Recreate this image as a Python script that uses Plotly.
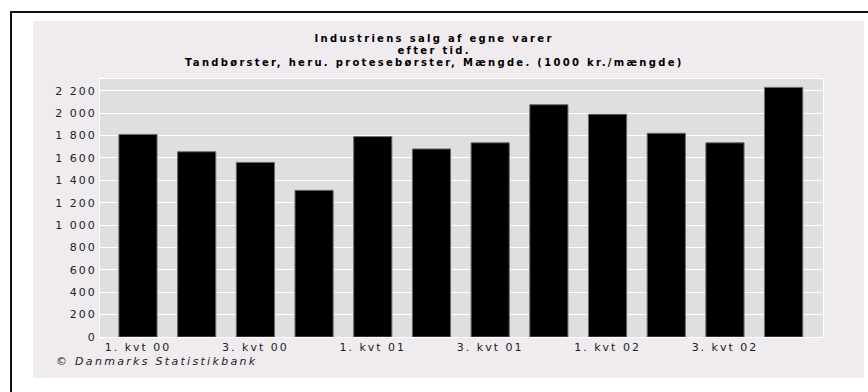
import plotly.graph_objects as go

# ---- data ----
categories = ["1. kvt 00", "2. kvt 00", "3. kvt 00", "4. kvt 00",
              "1. kvt 01", "2. kvt 01", "3. kvt 01", "4. kvt 01",
              "1. kvt 02", "2. kvt 02", "3. kvt 02", "4. kvt 02"]
values = [1810, 1655, 1560, 1310, 1790, 1680, 1735, 2075, 1990, 1820, 1735, 2230]
ytick_vals = [0, 200, 400, 600, 800, 1000, 1200, 1400, 1600, 1800, 2000, 2200]
ytick_text = ["0", "200", "400", "600", "800", "1 000", "1 200", "1 400",
              "1 600", "1 800", "2 000", "2 200"]
title_lines = ["Industriens salg af egne varer",
               "efter tid.",
               "Tandbørster, heru. protesebørster, Mængde. (1000 kr./mængde)"]
source_text = "© Danmarks Statistikbank"

# ---- layout geometry (pixels) ----
W, H = 868, 392
L, R, T, B = 100, 823, 79, 337


def px(x):
    return (x - L) / (R - L)


def py(y):
    return (B - y) / (B - T)


xpos = list(range(len(categories)))
xtick_vals = xpos[::2]
xtick_text = categories[::2]

FONT = "DejaVu Sans"

fig = go.Figure()
fig.add_trace(go.Bar(
    x=xpos, y=values, width=0.65,
    marker=dict(color="#000000", line=dict(color="#6a6a6a", width=1)),
    hoverinfo="skip",
))

shapes = [
    dict(type="rect", xref="paper", yref="paper", x0=px(33), x1=px(864),
         y0=py(378), y1=py(21), fillcolor="#EFEBEF", line=dict(width=0), layer="below"),
    dict(type="rect", xref="paper", yref="paper", x0=0, x1=1, y0=0, y1=1,
         fillcolor="#DFDFDF", line=dict(width=0), layer="below"),
    dict(type="line", xref="paper", yref="paper", x0=px(10), x1=px(875),
         y0=py(12), y1=py(12), line=dict(color="#111111", width=2)),
    dict(type="line", xref="paper", yref="paper", x0=px(11), x1=px(11),
         y0=py(11), y1=py(400), line=dict(color="#111111", width=2)),
]

annotations = []
for line_text, yc in zip(title_lines, [39, 50.5, 62]):
    annotations.append(dict(
        text=line_text, xref="paper", yref="paper", x=px(434), y=py(yc),
        xanchor="center", yanchor="middle", showarrow=False, borderpad=0,
        font=dict(family=FONT, size=10, color="#000000", weight=700),
    ))
annotations.append(dict(
    text=source_text, xref="paper", yref="paper", x=px(54), y=py(361),
    xanchor="left", yanchor="middle", align="left", showarrow=False,
    font=dict(family=FONT, size=11, color="#222222", style="italic"),
))

fig.update_layout(
    width=W, height=H,
    margin=dict(l=L, r=W - R, t=T, b=H - B, pad=0),
    paper_bgcolor="#FFFFFF", plot_bgcolor="#DFDFDF",
    template="none", showlegend=False,
    shapes=shapes, annotations=annotations,
    xaxis=dict(range=[-0.647, 11.67], tickmode="array", tickvals=xtick_vals,
               ticktext=xtick_text, showgrid=False, zeroline=False,
               showline=True, mirror=True, linecolor="#FFFFFF", linewidth=1,
               ticks="", tickfont=dict(family=FONT, size=11, color="#222222")),
    yaxis=dict(range=[0, 2305], tickmode="array", tickvals=ytick_vals,
               ticktext=ytick_text, showgrid=True, gridcolor="#FFFFFF",
               gridwidth=1, zeroline=False, showline=True, mirror=True,
               linecolor="#FFFFFF", linewidth=1, ticks="",
               tickfont=dict(family=FONT, size=11, color="#222222")),
)

css = ("var st=document.createElement('style');"
       "st.innerHTML='.xtick text,.ytick text{letter-spacing:2px}"
       ".annotation[data-index=\"0\"] text,.annotation[data-index=\"1\"] text,"
       ".annotation[data-index=\"2\"] text{letter-spacing:2.3px}"
       ".annotation[data-index=\"3\"] text{letter-spacing:2.3px}';"
       "document.head.appendChild(st);")

fig.write_html("out.html", config={"displayModeBar": False}, post_script=css)
